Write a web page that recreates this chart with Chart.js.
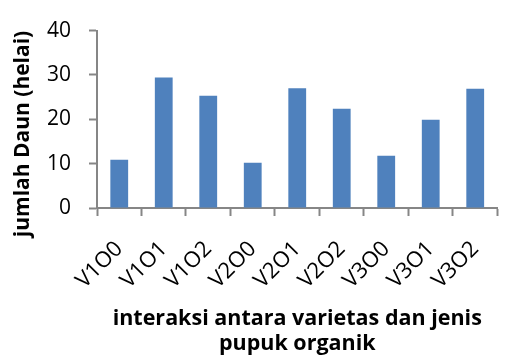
<!DOCTYPE html>
<html>
<head>
<meta charset="utf-8">
<script src="https://cdn.jsdelivr.net/npm/chart.js@4.4.1/dist/chart.umd.min.js"></script>
<style>
  html, body { margin: 0; padding: 0; background: #fff; }
  #wrap { width: 514px; height: 358px; }
</style>
</head>
<body>
<div id="wrap"><canvas id="daunChart" width="514" height="358"></canvas></div>
<script>
// perlakuan (varietas x pupuk organik)
const kategori = ['V1O0', 'V1O1', 'V1O2', 'V2O0', 'V2O1', 'V2O2', 'V3O0', 'V3O1', 'V3O2'];
// rata-rata jumlah daun (helai)
const jumlahDaun = [10.9, 29.4, 25.3, 10.2, 27.0, 22.4, 11.8, 19.9, 26.9];
const yTicks = [0, 10, 20, 30, 40];

const warnaBatang = '#4F81BD';
const warnaSumbu = '#868686';
const hurufDasar = '"Open Sans", Lato, sans-serif';

// judul sumbu Y digambar sendiri supaya posisinya bisa diatur
const judulSumbuY = {
    id: 'judulSumbuY',
    afterDraw(chart) {
        const ctx = chart.ctx;
        ctx.save();
        ctx.translate(23, 134);
        ctx.rotate(-Math.PI / 2);
        ctx.font = 'bold 21px ' + hurufDasar;
        ctx.fillStyle = '#000';
        ctx.textAlign = 'center';
        ctx.textBaseline = 'middle';
        ctx.fillText('jumlah Daun (helai)', 0, 0);
        ctx.restore();
    }
};

const ctx = document.getElementById('daunChart').getContext('2d');
new Chart(ctx, {
    type: 'bar',
    data: {
        labels: kategori,
        datasets: [{
            label: 'jumlah Daun',
            data: jumlahDaun,
            backgroundColor: warnaBatang,
            borderWidth: 0,
            barPercentage: 0.4,
            categoryPercentage: 1
        }]
    },
    options: {
        responsive: false,
        animation: false,
        layout: { padding: { top: 22, right: 2, bottom: 0, left: 0 } },
        plugins: {
            legend: { display: false },
            tooltip: { enabled: false }
        },
        scales: {
            x: {
                grid: {
                    offset: true,
                    drawOnChartArea: false,
                    tickLength: 8,
                    tickWidth: 2,
                    tickColor: warnaSumbu
                },
                border: { color: warnaSumbu, width: 2 },
                ticks: {
                    color: '#000',
                    font: { family: hurufDasar, size: 22 },
                    minRotation: 45,
                    maxRotation: 45,
                    padding: 20
                },
                title: {
                    display: true,
                    text: ['interaksi antara varietas dan jenis', 'pupuk organik'],
                    color: '#000',
                    font: { family: hurufDasar, size: 21.5, weight: 'bold', lineHeight: 1.15 },
                    padding: { top: 0, bottom: 2 }
                },
                afterFit(scale) { scale.height = 150; }
            },
            y: {
                min: 0,
                max: 40,
                afterBuildTicks(scale) {
                    scale.ticks = yTicks.map(v => ({ value: v }));
                },
                grid: {
                    drawOnChartArea: false,
                    tickLength: 8,
                    tickWidth: 2,
                    tickColor: warnaSumbu
                },
                border: { color: warnaSumbu, width: 2 },
                ticks: {
                    color: '#000',
                    font: { family: hurufDasar, size: 21 },
                    padding: 18
                },
                afterFit(scale) { scale.width = 97; }
            }
        }
    },
    plugins: [judulSumbuY]
});
</script>
</body>
</html>
